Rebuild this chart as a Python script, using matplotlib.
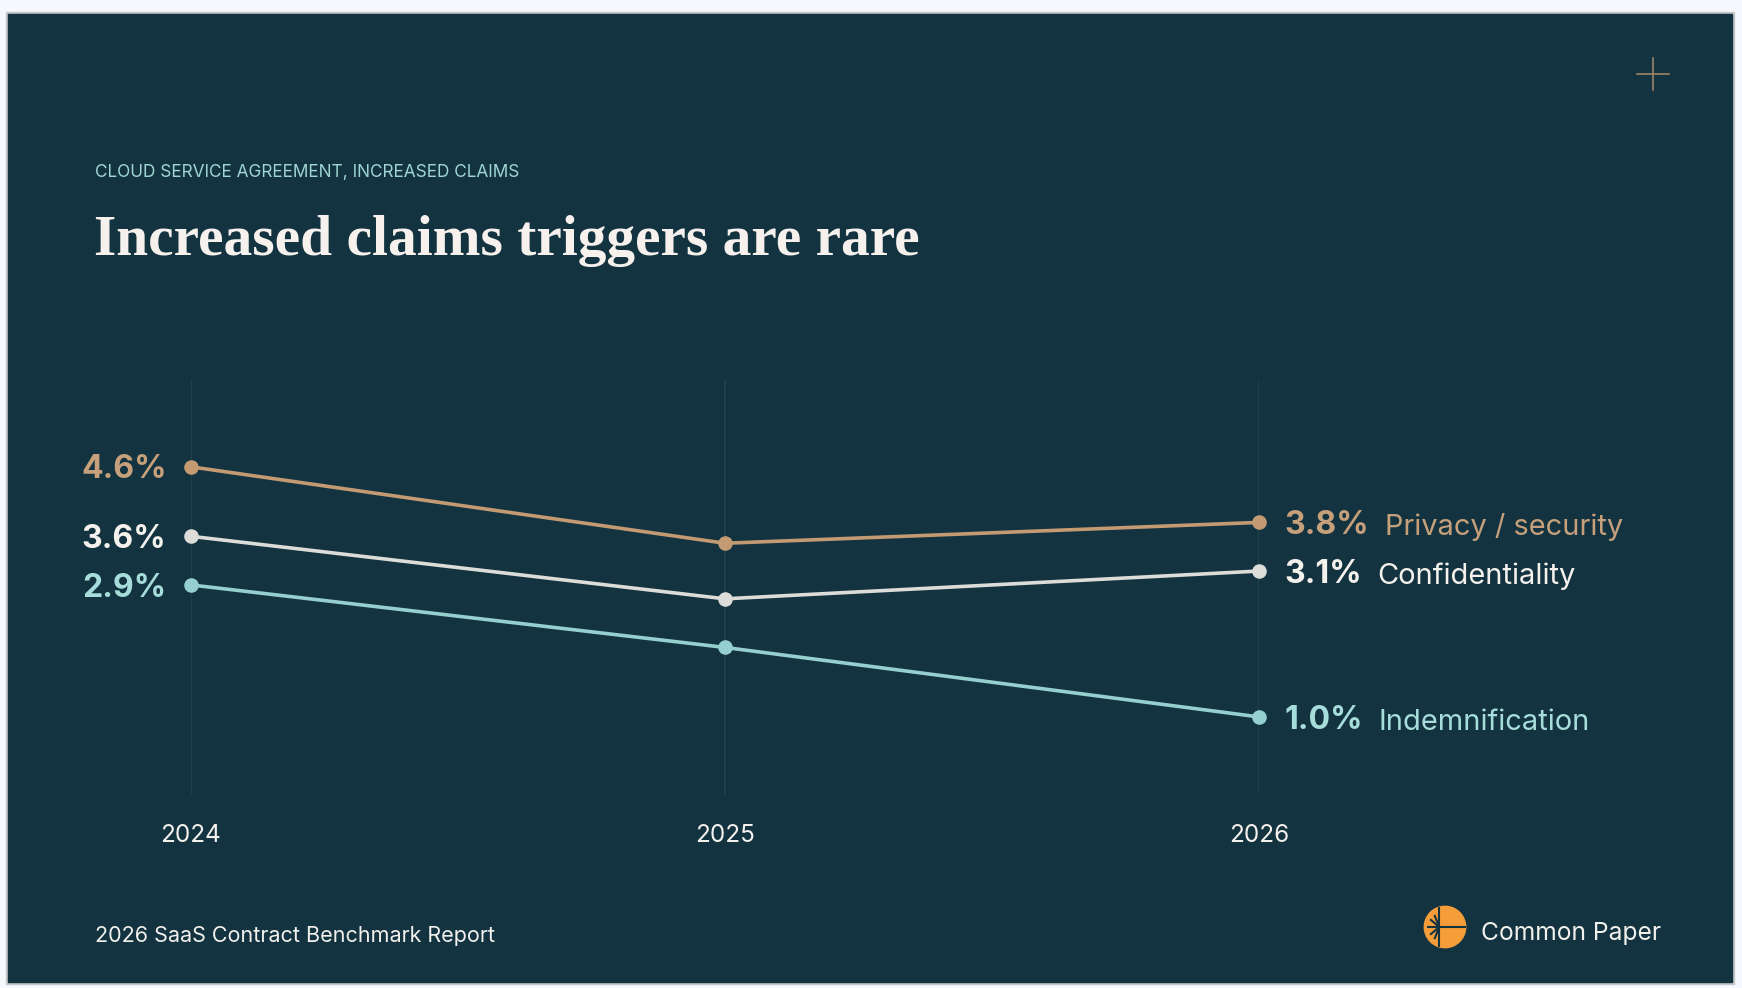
import numpy as np
import matplotlib
matplotlib.use("Agg")
from matplotlib import pyplot as plt
from matplotlib.patches import Rectangle, Circle
from matplotlib.lines import Line2D

plt.rcParams['font.family'] = ['Inter', 'DejaVu Sans']

years = [2024, 2025, 2026]
series_names = ["Privacy / security", "Confidentiality", "Indemnification"]
privacy = [4.6, 3.5, 3.8]
confidentiality = [3.6, 2.7, 3.1]
indemnification = [2.9, 2.0, 1.0]

BG = "#133340"
W, H = 1742, 988

line_colors = ["#c39a72", "#dcdcd8", "#96cfcf"]
text_colors = ["#c6a07a", "#f5f2ee", "#a6dcda"]


def fx(px):
    return px / W


def fy(py):
    return (H - py) / H


fig = plt.figure(figsize=(W / 100, H / 100), dpi=100)
fig.patch.set_facecolor("#f7f8fd")

# frame + dark panel
fig.add_artist(Rectangle((fx(6), fy(984)), fx(1734) - fx(6), fy(12) - fy(984),
                         transform=fig.transFigure, color="#c3c7c7", zorder=0))
fig.add_artist(Rectangle((fx(8), fy(982)), fx(1732) - fx(8), fy(14) - fy(982),
                         transform=fig.transFigure, color=BG, zorder=0))

# plus mark top right
fig.add_artist(Line2D([fx(1637), fx(1669)], [fy(74), fy(74)], transform=fig.transFigure,
                      color="#9c8468", lw=1.2))
fig.add_artist(Line2D([fx(1653), fx(1653)], [fy(58), fy(90)], transform=fig.transFigure,
                      color="#9c8468", lw=1.2))

fig.text(fx(95), fy(177.3), "CLOUD SERVICE AGREEMENT, INCREASED CLAIMS",
         color="#9fd6d3", fontsize=12.4, va="baseline")
fig.text(fx(94), fy(255), "Increased claims triggers are rare", color="#f6f1ec",
         fontsize=41.3, fontweight="bold", family="Liberation Serif", va="baseline")

ax = fig.add_axes([fx(191), fy(795), fx(1259) - fx(191), fy(380) - fy(795)])
ax.set_facecolor("none")
ax.set_xlim(2024, 2026)
ax.set_ylim(-0.124, 5.85)
for s in ax.spines.values():
    s.set_visible(False)
ax.set_yticks([])
ax.set_xticks(years)
ax.set_xticklabels([str(y) for y in years], color="#f5f2ee", fontsize=17.5)
ax.tick_params(axis="x", length=0, pad=21)
ax.grid(axis="x", color="#1f414c", lw=1.3)
ax.set_axisbelow(True)

all_series = [privacy, confidentiality, indemnification]
for vals, name, lc, tc in zip(all_series, series_names, line_colors, text_colors):
    ax.plot(years, vals, color=lc, lw=2.6, marker="o", markersize=10.5,
            markeredgewidth=0, clip_on=False, zorder=3)
    ax.annotate(f"{vals[0]:.1f}%", xy=(years[0], vals[0]),
                xytext=(-17.7, -0.3635 * 23), textcoords="offset points",
                ha="right", va="baseline", color=tc, fontsize=23, fontweight="bold")
    vt = ax.annotate(f"{vals[-1]:.1f}%", xy=(years[-1], vals[-1]),
                     xytext=(18.5, -0.3635 * 23), textcoords="offset points",
                     ha="left", va="baseline", color=tc, fontsize=23, fontweight="bold")
    ax.annotate(name, xy=(1, 0), xycoords=vt, xytext=(11, 0),
                textcoords="offset points", ha="left", va="bottom",
                color=tc, fontsize=20.9)

fig.text(fx(95), fy(942.3), "2026 SaaS Contract Benchmark Report",
         color="#f2f0ec", fontsize=15.5, va="baseline")

# logo
lax = fig.add_axes([fx(1421), fy(951), fx(48), 48 / H])
lax.set_xlim(-24, 24)
lax.set_ylim(-24, 24)
lax.axis("off")
lax.add_patch(Circle((0, 0), 20.7, color="#f59d38"))
cx = -5.7
lax.plot([cx, cx], [-19.9, 19.9], color=BG, lw=1.5, solid_capstyle="butt")
lax.plot([cx, 20.7], [0, 0], color=BG, lw=1.5, solid_capstyle="butt")
for ang, ln in zip([112, 140, 180, 220, 248], [13, 12, 12.5, 12, 13]):
    a = np.deg2rad(ang)
    lax.plot([cx, cx + ln * np.cos(a)], [0, ln * np.sin(a)], color=BG, lw=1.5,
             solid_capstyle="butt")

fig.text(fx(1481), fy(940), "Common Paper", color="#f2f0ec", fontsize=17.7,
         va="baseline")

fig.savefig("out.png", dpi=100, facecolor=fig.get_facecolor())
